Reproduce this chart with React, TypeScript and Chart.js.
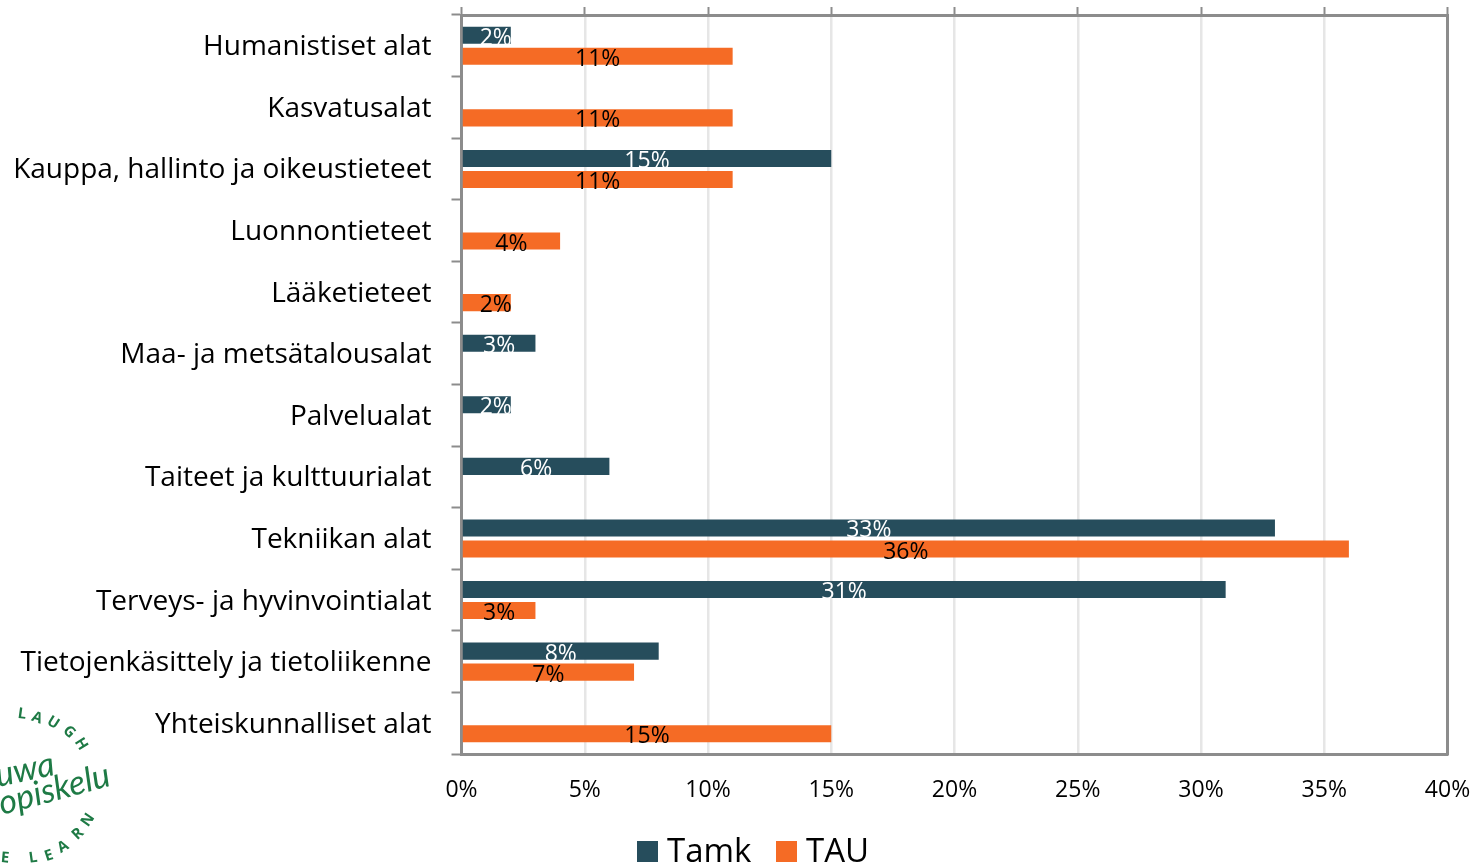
import React, { useEffect, useRef } from "react";
import { Chart, registerables } from "chart.js";

Chart.register(...registerables);

const categories = [
  "Humanistiset alat",
  "Kasvatusalat",
  "Kauppa, hallinto ja oikeustieteet",
  "Luonnontieteet",
  "Lääketieteet",
  "Maa- ja metsätalousalat",
  "Palvelualat",
  "Taiteet ja kulttuurialat",
  "Tekniikan alat",
  "Terveys- ja hyvinvointialat",
  "Tietojenkäsittely ja tietoliikenne",
  "Yhteiskunnalliset alat",
];
const tamk = [2, null, 15, null, null, 3, 2, 6, 33, 31, 8, null];
const tau = [11, 11, 11, 4, 2, null, null, null, 36, 3, 7, 15];

const FONT = '"Open Sans", sans-serif';
const AXIS = "#8c8c8c";
const GRID = "#e6e6e6";

const dataLabels = {
  id: "dataLabels",
  afterDatasetsDraw(chart: any) {
    const ctx = chart.ctx;
    ctx.save();
    ctx.font = `23px ${FONT}`;
    ctx.textAlign = "center";
    ctx.textBaseline = "middle";
    chart.data.datasets.forEach((ds: any, i: number) => {
      const meta = chart.getDatasetMeta(i);
      ctx.fillStyle = i === 0 ? "#ffffff" : "#000000";
      meta.data.forEach((bar: any, j: number) => {
        const v = ds.data[j];
        if (v == null) return;
        const mid = Math.max((bar.base + bar.x) / 2, bar.base + 33);
        ctx.fillText(`${v}%`, mid, bar.y + 3);
      });
    });
    ctx.restore();
  },
};

const legendRow = {
  id: "legendRow",
  afterDraw(chart: any) {
    const ctx = chart.ctx;
    const slots = [637, 776];
    ctx.save();
    ctx.font = `33px ${FONT}`;
    ctx.textAlign = "left";
    ctx.textBaseline = "middle";
    chart.data.datasets.forEach((ds: any, i: number) => {
      ctx.fillStyle = ds.backgroundColor;
      ctx.fillRect(slots[i], 841, 21, 21);
      ctx.fillStyle = "#000000";
      ctx.fillText(ds.label, slots[i] + 30, 853);
    });
    ctx.restore();
  },
};

const logo = {
  id: "logo",
  afterDraw(chart: any) {
    const ctx = chart.ctx;
    const letters: [string, number, number, number][] = [
      ["L", 22, 714, 8],
      ["A", 37, 718, 20],
      ["U", 53, 723, 32],
      ["G", 69, 732, 45],
      ["H", 81, 744, 58],
      ["N", 88, 820, -55],
      ["R", 78, 834, -43],
      ["A", 63, 847, -30],
      ["E", 49, 856, -18],
      ["L", 33, 858, -8],
      ["E", 5, 858, 5],
    ];
    ctx.save();
    ctx.fillStyle = "#1e7a45";
    ctx.textAlign = "center";
    ctx.textBaseline = "middle";
    ctx.font = `bold 15px ${FONT}`;
    letters.forEach(([t, x, y, r]) => {
      ctx.save();
      ctx.translate(x, y);
      ctx.rotate((r * Math.PI) / 180);
      ctx.fillText(t, 0, 0);
      ctx.restore();
    });
    ctx.font = 'italic 34px "Lato", sans-serif';
    ctx.textAlign = "left";
    ctx.textBaseline = "alphabetic";
    ctx.save();
    ctx.translate(-2, 787);
    ctx.rotate((-12 * Math.PI) / 180);
    ctx.fillText("uwa", 0, 0);
    ctx.restore();
    ctx.save();
    ctx.translate(2, 815);
    ctx.rotate((-15 * Math.PI) / 180);
    ctx.fillText("opiskelu", 0, 0);
    ctx.restore();
    ctx.restore();
  },
};

export default function App() {
  const ref = useRef<HTMLCanvasElement>(null);
  useEffect(() => {
    const chart = new Chart(ref.current!, {
      type: "bar",
      data: {
        labels: categories,
        datasets: [
          {
            label: "Tamk",
            data: tamk,
            backgroundColor: "#264d5c",
            categoryPercentage: 0.683,
            barPercentage: 0.81,
          },
          {
            label: "TAU",
            data: tau,
            backgroundColor: "#f56b25",
            categoryPercentage: 0.683,
            barPercentage: 0.81,
          },
        ],
      },
      options: {
        indexAxis: "y",
        animation: false,
        responsive: false,
        devicePixelRatio: 1,
        layout: { padding: 0 },
        scales: {
          x: {
            position: "bottom",
            min: 0,
            max: 40,
            ticks: {
              stepSize: 5,
              color: "#000000",
              font: { family: FONT, size: 23 },
              padding: 23,
              maxRotation: 0,
              callback: (v: any) => `${v}%`,
            },
            grid: { color: GRID, lineWidth: 2.5, drawTicks: false },
            border: { color: AXIS, width: 3 },
            afterFit(s: any) {
              s.height = 111;
              s.paddingRight = 27.5;
            },
          } as any,
          xTop: {
            position: "top",
            min: 0,
            max: 40,
            ticks: { stepSize: 5, display: false },
            grid: {
              drawOnChartArea: false,
              tickLength: 8,
              tickColor: AXIS,
              tickWidth: 2,
            },
            border: { color: AXIS, width: 3 },
            afterFit(s: any) {
              s.height = 15;
            },
          } as any,
          y: {
            ticks: {
              color: "#000000",
              font: { family: FONT, size: 28 },
              padding: 20,
              autoSkip: false,
              labelOffset: 1.5,
            },
            grid: {
              offset: true,
              drawOnChartArea: false,
              tickLength: 10,
              tickColor: AXIS,
              tickWidth: 2,
            },
            border: { color: AXIS, width: 3 },
            afterFit(s: any) {
              s.width = 461.5;
              s.paddingTop = 0;
              s.paddingBottom = 0;
            },
          } as any,
          yRight: {
            position: "right",
            min: 0,
            max: 1,
            ticks: { display: false },
            grid: { display: false, drawTicks: false },
            border: { color: AXIS, width: 3 },
            afterFit(s: any) {
              s.width = 0;
            },
          } as any,
        },
        plugins: {
          title: { display: false },
          tooltip: { enabled: false },
          legend: { display: false },
        },
      } as any,
      plugins: [dataLabels, legendRow, logo],
    });
    return () => chart.destroy();
  }, []);
  return (
    <canvas
      ref={ref}
      width={1475}
      height={865}
      style={{ position: "fixed", left: 0, top: 0, width: 1475, height: 865 }}
    />
  );
}
